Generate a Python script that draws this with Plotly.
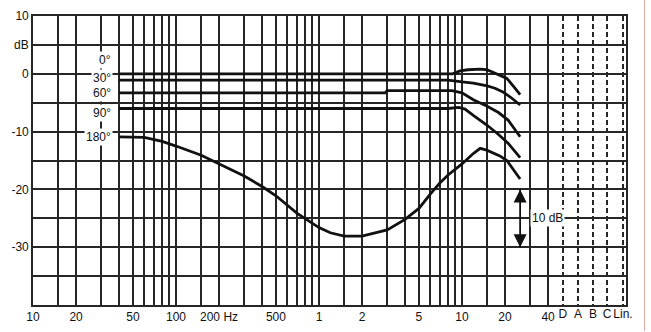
import numpy as np
import plotly.graph_objects as go

# ---------------- data ----------------
freq_0 = [40, 7000, 8600, 9700, 11000, 13400, 14900, 16000, 17800, 20600, 23000, 25500]
db_0 = [0.0, 0.0, 0.0, 0.5, 0.7, 0.8, 0.7, 0.4, -0.1, -0.8, -2.2, -3.6]

freq_30 = [40, 8000, 10000, 12000, 15000, 17000, 19500, 22000, 25500]
db_30 = [-1.1, -1.1, -1.4, -1.6, -2.1, -2.5, -3.2, -4.1, -5.4]

freq_60 = [40, 2900, 3000, 8500, 10000, 12000, 15000, 18000, 21000, 25500]
db_60 = [-3.3, -3.3, -2.9, -2.9, -3.3, -4.5, -5.6, -6.7, -8.0, -10.9]

freq_90 = [40, 8000, 9500, 10500, 12000, 15000, 18000, 21000, 25500]
db_90 = [-6.0, -6.0, -5.8, -6.1, -7.2, -8.9, -10.5, -12.0, -14.5]

freq_180 = [40, 60, 80, 100, 150, 200, 300, 400, 500, 700, 1000, 1200, 1500, 2000,
            3000, 4000, 5000, 6000, 7000, 8000, 10000, 12000, 13400, 14900, 18400, 20600, 25500]
db_180 = [-10.9, -11.0, -11.7, -12.5, -14.1, -15.6, -17.7, -19.5, -21.1, -24.1, -26.6, -27.5,
          -28.1, -28.1, -27.0, -25.2, -23.3, -20.8, -18.9, -17.5, -15.6, -13.8, -12.9, -13.2,
          -14.2, -15.0, -18.2]

curve_names = ["0°", "30°", "60°", "90°", "180°"]
label_db = [2.4, -0.7, -3.3, -6.7, -10.9]

grid_freqs = [10, 15, 20, 30, 40, 50, 60, 70, 80, 90, 100, 150, 200, 300, 400, 500, 600, 700,
              800, 900, 1000, 1500, 2000, 3000, 4000, 5000, 6000, 7000, 8000, 9000, 10000,
              15000, 20000, 30000, 40000]
labelled = {10: "10", 20: "20", 50: "50", 100: "100", 200: "200 Hz", 500: "500", 1000: "1",
            2000: "2", 5000: "5", 10000: "10", 20000: "20", 40000: "40"}
filter_labels = ["D", "A", "B", "C", "Lin."]
filter_log_pos = [4.706, 4.811, 4.916, 5.014, 5.126]

y_ticks = [10, 5, 0, -5, -10, -15, -20, -25, -30, -35, -40]
y_text = ["10", "dB", "0", "", "-10", "", "-20", "", "-30", "", ""]

scale_freq = 25500
scale_top, scale_bottom = -20, -30
scale_label = "10 dB"

# ---------------- figure ----------------
FONT = "Liberation Sans, Arial, sans-serif"
FS = 12
INK = "#111111"
GRID = "#262626"
GW = 1.5

fig = go.Figure()

for f, d in [(freq_0, db_0), (freq_30, db_30), (freq_60, db_60), (freq_90, db_90), (freq_180, db_180)]:
    fig.add_trace(go.Scatter(x=f, y=d, mode="lines", line=dict(color=INK, width=2.8),
                             hoverinfo="skip", showlegend=False))

# 10 dB scale arrow
fig.add_trace(go.Scatter(x=[scale_freq, scale_freq], y=[scale_top, scale_bottom], mode="lines",
                         line=dict(color=INK, width=1.8), showlegend=False, hoverinfo="skip"))
fig.add_trace(go.Scatter(x=[scale_freq], y=[scale_top], mode="markers",
                         marker=dict(symbol="arrow-up", size=13, color=INK, line=dict(width=0)),
                         showlegend=False, hoverinfo="skip"))
fig.add_trace(go.Scatter(x=[scale_freq], y=[scale_bottom], mode="markers",
                         marker=dict(symbol="arrow-down", size=13, color=INK, line=dict(width=0)),
                         showlegend=False, hoverinfo="skip"))

# hidden trace for the dashed filter axis
filter_x = [10 ** p for p in filter_log_pos]
fig.add_trace(go.Scatter(x=filter_x, y=[0] * len(filter_x), xaxis="x2", mode="markers",
                         marker=dict(opacity=0), showlegend=False, hoverinfo="skip"))

x_range = [1, 5.147]

fig.update_layout(
    width=651, height=332,
    margin=dict(l=33, r=25, t=16, b=27),
    paper_bgcolor="white", plot_bgcolor="white",
    font=dict(family=FONT, size=FS, color=INK),
    xaxis=dict(type="log", range=x_range, tickmode="array", tickvals=grid_freqs,
               ticktext=[labelled.get(v, "") for v in grid_freqs],
               showgrid=True, gridcolor=GRID, gridwidth=GW, zeroline=False,
               showline=True, mirror=True, linecolor=GRID, linewidth=1.6,
               ticks="", tickangle=0, automargin=False,
               tickfont=dict(size=FS, family=FONT, color=INK)),
    xaxis2=dict(type="log", range=x_range, overlaying="x", side="bottom", anchor="y",
                tickmode="array", tickvals=filter_x, ticktext=filter_labels,
                showgrid=True, gridcolor=GRID, gridwidth=GW, griddash="5px,3px",
                zeroline=False, showline=False, ticks="", tickangle=0, automargin=False,
                tickfont=dict(size=FS, family=FONT, color=INK)),
    yaxis=dict(range=[-40, 10], tickmode="array", tickvals=y_ticks, ticktext=y_text,
               showgrid=True, gridcolor=GRID, gridwidth=GW, zeroline=False,
               showline=True, mirror=True, linecolor=GRID, linewidth=1.6,
               ticks="", automargin=False,
               tickfont=dict(size=FS, family=FONT, color=INK)),
)

# curve labels
label_x = np.log10(36.3)
for name, yv in zip(curve_names, label_db):
    fig.add_annotation(x=label_x, y=yv, xref="x", yref="y", text=name, showarrow=False,
                       xanchor="right", yanchor="middle", bgcolor="white", borderpad=1,
                       font=dict(size=FS, family=FONT, color=INK))

fig.add_annotation(x=np.log10(29800), y=(scale_top + scale_bottom) / 2, xref="x", yref="y",
                   text=scale_label, showarrow=False, xanchor="left", yanchor="middle",
                   bgcolor="white", borderpad=1, font=dict(size=FS, family=FONT, color=INK))

# thin pink frame line on the right edge of the picture (1px-wide box)
fig.add_annotation(x=1.032, y=0.5, xref="paper", yref="paper", text=" ", showarrow=False,
                   width=1, height=340, bgcolor="#e3aaa2", borderpad=0, borderwidth=0,
                   xanchor="center", yanchor="middle", font=dict(size=2))

fig.write_html("out.html", config={"displayModeBar": False},
               post_script="document.body.style.margin='0';document.body.style.overflow='hidden';")
